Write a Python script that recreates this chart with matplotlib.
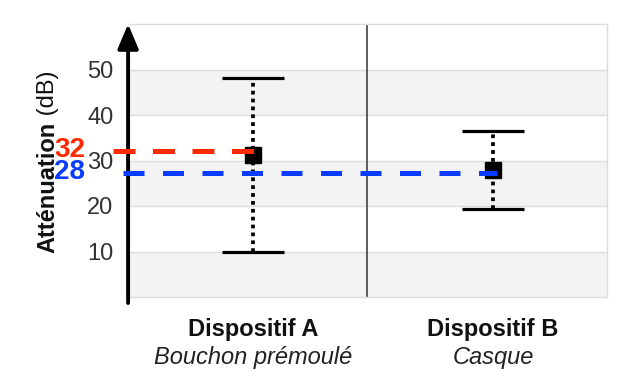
import matplotlib
matplotlib.use("Agg")
import matplotlib.pyplot as plt
from matplotlib.transforms import blended_transform_factory

plt.rcParams['font.family'] = ['Liberation Sans', 'DejaVu Sans']

# data
devices = ['Dispositif A', 'Dispositif B']
subtitles = ['Bouchon prémoulé', 'Casque']
means = [31.2, 28.0]
lows = [10.0, 19.4]
highs = [48.2, 36.5]
ref_values = [32, 27.2]
ref_labels = ['32', '28']
ref_colors = ['#ff2a00', '#0a3cff']
y_ticks = [10, 20, 30, 40, 50]

x = [0, 1]

fig = plt.figure(figsize=(6.41, 3.72), dpi=100)
ax = fig.add_axes([130 / 641, 1 - 297 / 372, 477 / 641, 273 / 372])
ax.set_xlim(-0.512, 1.475)
ax.set_ylim(0, 60)

# alternating bands + grid
for lo in [0, 20, 40]:
    ax.axhspan(lo, lo + 10, color='#f3f3f3', zorder=0, lw=0)
for t in y_ticks:
    ax.axhline(t, color='#dcdcdc', lw=1, zorder=1)

for s in ['top', 'right', 'bottom']:
    ax.spines[s].set_color('#dcdcdc')
    ax.spines[s].set_linewidth(1)
ax.spines['left'].set_visible(False)

# separator between devices
ax.axvline(0.475, color='#333333', lw=1.1, zorder=2)

# error bars
for i in range(2):
    yerr = [[means[i] - lows[i]], [highs[i] - means[i]]]
    eb = ax.errorbar([x[i]], [means[i]], yerr=yerr, fmt='s', color='black',
                     ms=12, ecolor='black', elinewidth=2.7, capsize=22,
                     capthick=2.3, zorder=3)
    eb[2][0].set_linestyle((0, (1, 1.1)))

# reference dashed lines
ax.plot([-0.583, x[0] + 0.017], [ref_values[0]] * 2, color=ref_colors[0], lw=3.6,
        ls=(0, (4.4, 3.5)), clip_on=False, zorder=5)
ax.plot([-0.54, x[1] + 0.017], [ref_values[1]] * 2, color=ref_colors[1], lw=3.6,
        ls=(0, (4.2, 3.7)), clip_on=False, zorder=5)
ax.text(-0.70, ref_values[0] + 0.4, ref_labels[0], color=ref_colors[0], fontsize=20,
        weight='bold', ha='right', va='center', clip_on=False)
ax.text(-0.70, ref_values[1] + 0.2, ref_labels[1], color=ref_colors[1], fontsize=20,
        weight='bold', ha='right', va='center', clip_on=False)

# y ticks
ax.set_yticks(y_ticks)
ax.tick_params(axis='y', length=0, pad=12, labelsize=17, labelcolor='#333333')
ax.set_xticks([])

# arrow for y axis
ax.annotate('', xy=(-0.004, 1.0), xytext=(-0.004, -0.022), xycoords='axes fraction',
            arrowprops=dict(arrowstyle='-|>,head_length=15,head_width=6.3',
                            mutation_scale=1, lw=2.8, color='black',
                            shrinkA=0, shrinkB=0), annotation_clip=False)

# x labels
tr = blended_transform_factory(ax.transData, ax.transAxes)
for i in range(2):
    ax.text(x[i], -0.118, devices[i], transform=tr, ha='center', va='center',
            fontsize=17, weight='bold', color='#111111')
    ax.text(x[i], -0.223, subtitles[i], transform=tr, ha='center', va='center',
            fontsize=17, style='italic', color='#222222')

# y label, bold part + normal part
t1 = fig.text(54 / 641, 1 - 253 / 372, 'Atténuation', rotation=90,
              rotation_mode='anchor', ha='left', va='baseline', fontsize=17,
              weight='bold', color='#111111')
ax.annotate(' (dB)', xy=(1, 1), xycoords=t1, rotation=90, ha='right', va='bottom',
            fontsize=17, color='#111111', annotation_clip=False)

fig.savefig('out.png', dpi=100)
